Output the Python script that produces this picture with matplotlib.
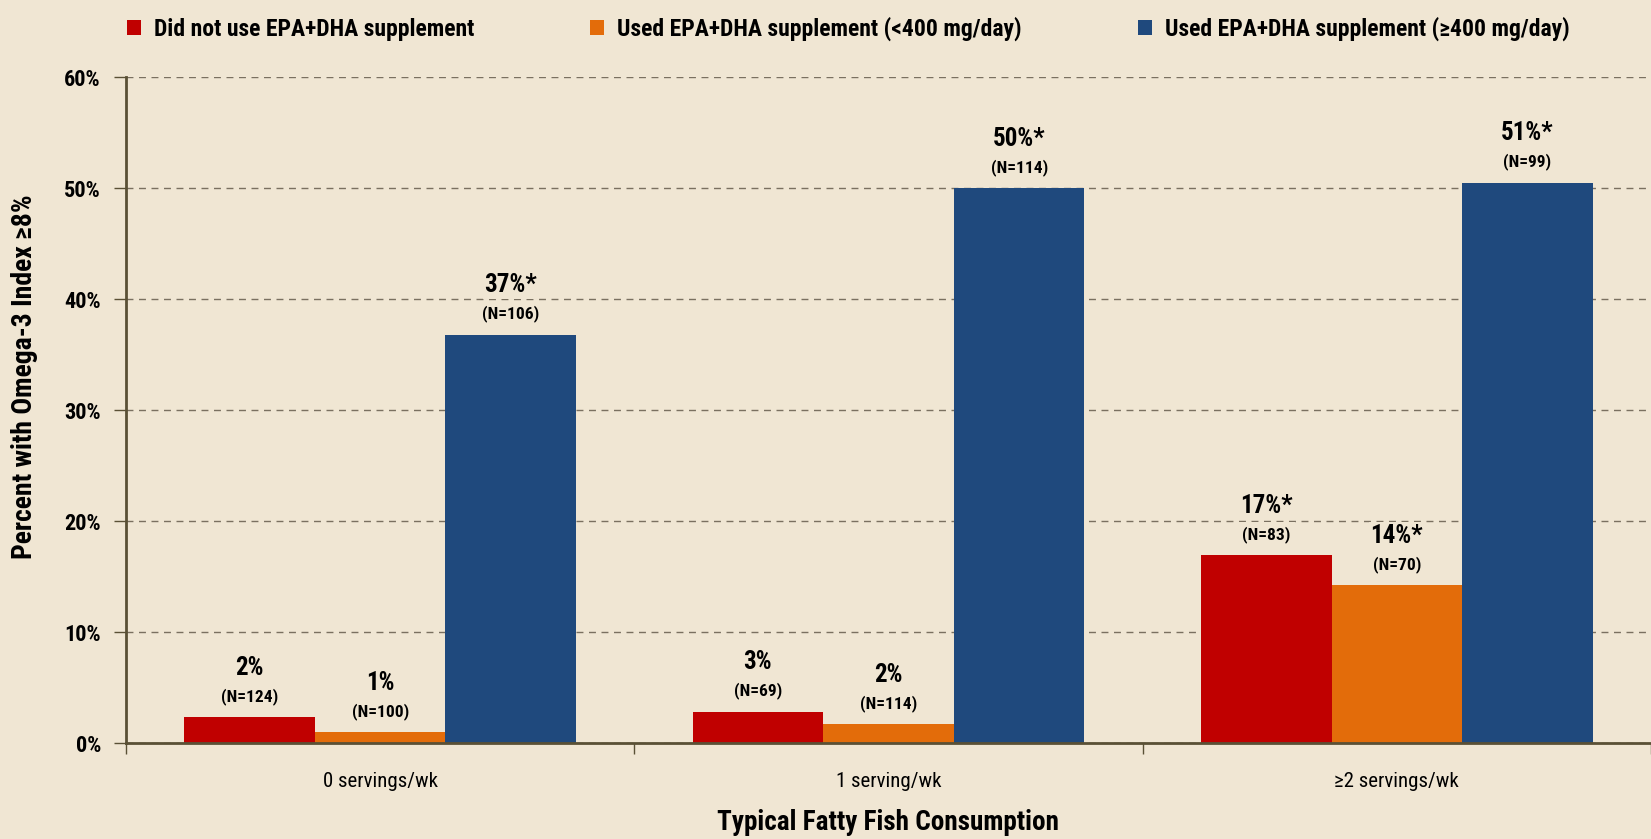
import numpy as np
import matplotlib
matplotlib.use("Agg")
import matplotlib.pyplot as plt
from matplotlib.ticker import FixedLocator, PercentFormatter

categories = ["0 servings/wk", "1 serving/wk", "\u22652 servings/wk"]
series_names = [
    "Did not use EPA+DHA supplement",
    "Used EPA+DHA supplement (<400 mg/day)",
    "Used EPA+DHA supplement (\u2265400 mg/day)",
]
no_supp = [2.3, 2.8, 16.9]
low_supp = [0.95, 1.7, 14.2]
high_supp = [36.8, 50.0, 50.5]
pct_labels = [["2%", "3%", "17%*"], ["1%", "2%", "14%*"], ["37%*", "50%*", "51%*"]]
n_labels = [["(N=124)", "(N=69)", "(N=83)"], ["(N=100)", "(N=114)", "(N=70)"],
            ["(N=106)", "(N=114)", "(N=99)"]]

colors = ["#C00000", "#E36C0A", "#1F497D"]
bg = "#F0E6D3"
plt.rcParams["font.family"] = ["Roboto Condensed", "Liberation Sans Narrow", "DejaVu Sans"]
plt.rcParams["font.stretch"] = "condensed"
plt.rcParams["font.weight"] = "bold"
plt.rcParams["axes.labelweight"] = "bold"

fig = plt.figure(figsize=(16.51, 8.39), dpi=100)
fig.patch.set_facecolor(bg)
ax = fig.add_axes([0.0763, 0.1144, 1 - 0.0763, 0.908 - 0.1144])
ax.set_facecolor(bg)

x = np.arange(len(categories))
width = 0.257
all_vals = [no_supp, low_supp, high_supp]
for i, vals in enumerate(all_vals):
    pos = x + (i - 1) * width
    ax.bar(pos, vals, width=width, color=colors[i], label=series_names[i], zorder=2)
    for j, v in enumerate(vals):
        ax.annotate(n_labels[i][j], (pos[j], v), xytext=(0, 9), textcoords="offset points",
                    ha="center", va="bottom", fontsize=12.5, zorder=3,
                    bbox=dict(facecolor=bg, edgecolor="none", pad=3))
        ax.annotate(pct_labels[i][j], (pos[j], v), xytext=(0, 27), textcoords="offset points",
                    ha="center", va="bottom", fontsize=18, zorder=3,
                    bbox=dict(facecolor=bg, edgecolor="none", pad=1))

ax.set_xlim(-0.5, 2.5)
ax.set_ylim(0, 60)
ax.set_yticks(np.arange(0, 61, 10))
ax.yaxis.set_major_formatter(PercentFormatter(decimals=0))
ax.grid(axis="y", linestyle=(0, (5, 4)), color="#7a7060", linewidth=1.0, zorder=0)
ax.set_xticks(x)
ax.set_xticklabels(categories, fontsize=15, fontweight="normal")
ax.xaxis.set_minor_locator(FixedLocator([-0.5, 0.5, 1.5, 2.5]))
ax.tick_params(axis="x", which="major", length=0, pad=21)
ax.tick_params(axis="x", which="minor", length=8, color="#5a5035", width=1)
ax.tick_params(axis="y", length=9, color="#5a5035", width=1, labelsize=16, pad=9)
for lbl in ax.get_yticklabels():
    lbl.set_fontweight("bold")

for s in ["top", "right"]:
    ax.spines[s].set_visible(False)
for s in ["left", "bottom"]:
    ax.spines[s].set_color("#5a5035")
    ax.spines[s].set_linewidth(2)

ax.set_ylabel("Percent with Omega-3 Index \u22658%", fontsize=20)
ax.yaxis.set_label_coords(-0.058, 0.55)
ax.set_xlabel("Typical Fatty Fish Consumption", fontsize=19.5, labelpad=13)

leg = fig.legend(loc="upper left", bbox_to_anchor=(0.064, 1.005), ncol=3, frameon=False,
                 fontsize=17, handlelength=0.6, handleheight=0.6, columnspacing=4.9,
                 handletextpad=0.55)

fig.savefig("out.png", dpi=100, facecolor=bg)
